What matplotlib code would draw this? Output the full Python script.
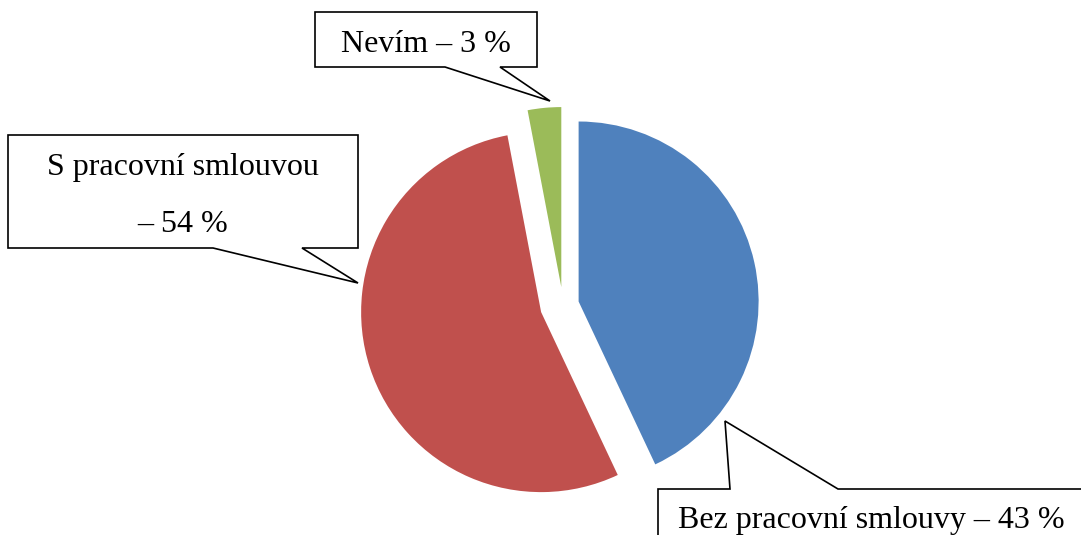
import matplotlib.pyplot as plt
from matplotlib.patches import Polygon

plt.rcParams['font.family'] = ['Liberation Serif', 'DejaVu Serif']

# Data
labels = ['Bez pracovní smlouvy', 'S pracovní smlouvou', 'Nevím']
values = [43, 54, 3]
colors = ['#4F81BD', '#C0504D', '#9BBB59']

W, H = 1081, 535
fig = plt.figure(figsize=(W / 100, H / 100), dpi=100)
ax = fig.add_axes([0, 0, 1, 1])


def py(y):
    # pixel row (from top) -> data y
    return H - y


ax.pie(values, colors=colors, startangle=90, counterclock=False,
       explode=[16, 23, 18], radius=180, center=(563, py(305)),
       wedgeprops=dict(linewidth=0))


def callout(pts, **kw):
    poly = Polygon([(x, py(y)) for x, y in pts], closed=True,
                   facecolor='white', edgecolor='black', linewidth=1.2,
                   joinstyle='miter', zorder=3, **kw)
    ax.add_patch(poly)


fs = 23

# Nevím callout
callout([(315, 12), (537, 12), (537, 67), (500, 67), (550, 101),
         (445, 67), (315, 67)])
ax.text(426, py(52), f'{labels[2]} – {values[2]} %', fontsize=fs,
        ha='center', va='baseline', zorder=4)

# S pracovní smlouvou callout
callout([(8, 135), (358, 135), (358, 248), (302, 248), (358, 283),
         (213, 248), (8, 248)])
ax.text(183, py(175), labels[1], fontsize=fs, ha='center', va='baseline', zorder=4)
ax.text(183, py(232), f'– {values[1]} %', fontsize=fs, ha='center',
        va='baseline', zorder=4)

# Bez pracovní smlouvy callout (runs off the figure edge)
callout([(658, 489), (730, 489), (725, 421), (838, 489), (1110, 489),
         (1110, 570), (658, 570)])
ax.text(678, py(528), f'{labels[0]} – {values[0]} %', fontsize=fs,
        ha='left', va='baseline', zorder=4)

ax.set_xlim(0, W)
ax.set_ylim(0, H)
ax.set_aspect('equal')
ax.axis('off')

fig.savefig('out.png', dpi=100)
